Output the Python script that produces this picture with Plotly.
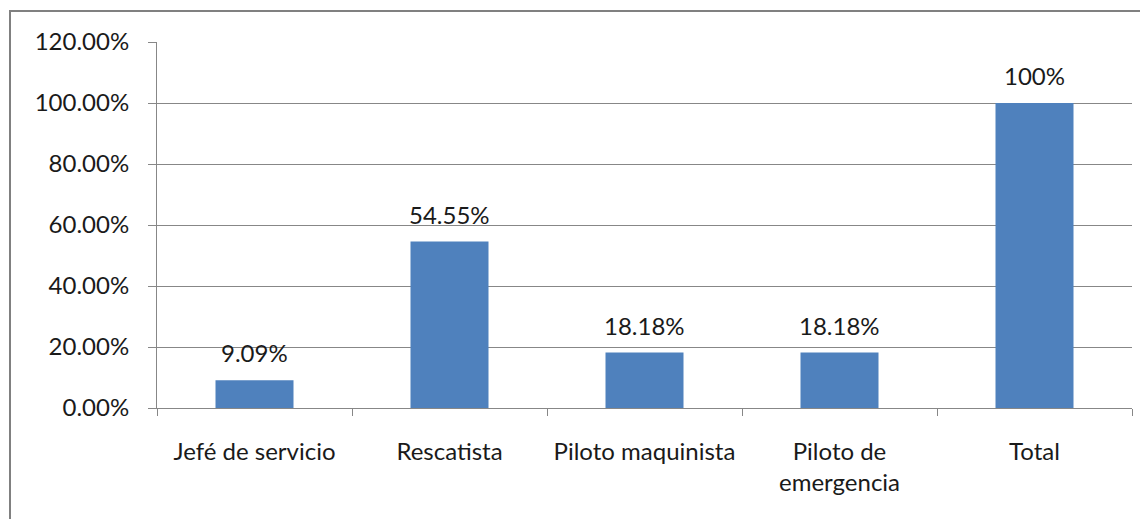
import plotly.graph_objects as go

# data
categories = ['Jefé de servicio', 'Rescatista', 'Piloto maquinista', 'Piloto de<br>emergencia', 'Total']
shares = [0.0909, 0.5455, 0.1818, 0.1818, 1.0]
share_labels = ['9.09%', '54.55%', '18.18%', '18.18%', '100%']
y_ticks = [0, 0.2, 0.4, 0.6, 0.8, 1.0, 1.2]

font_family = 'Lato, Open Sans, sans-serif'
grey = '#878787'
text_col = '#1a1a1a'

fig = go.Figure()
fig.add_trace(go.Bar(
    x=categories, y=shares,
    marker=dict(color='#4F81BD', line=dict(width=0)),
    width=0.4,
))

# value labels sit a bit higher above the bars than plotly's own outside text
for cat, val, lab in zip(categories, shares, share_labels):
    fig.add_annotation(x=cat, y=val, text=lab, showarrow=False,
                       yanchor='bottom', yshift=11,
                       font=dict(size=24, color=text_col, family=font_family))

# page body adds ~8px margin, so the figure is sized down a little
fig.update_layout(
    width=1140, height=511,
    margin=dict(l=149, r=16, t=34, b=111),
    paper_bgcolor='white', plot_bgcolor='white',
    showlegend=False,
    font=dict(family=font_family, size=24, color=text_col),
)
fig.update_yaxes(
    range=[0, 1.2], tickvals=y_ticks, tickformat='.2%',
    showgrid=True, gridcolor=grey, gridwidth=1,
    showline=True, linecolor=grey, linewidth=1,
    ticks='outside', ticklen=8, tickcolor=grey,
    ticklabelstandoff=14, zeroline=False,
)
fig.update_xaxes(
    showline=True, linecolor=grey, linewidth=1,
    ticks='outside', ticklen=7, tickcolor=grey, tickson='boundaries',
    ticklabelstandoff=22,
)

# outer chart border, partly cut off at right and bottom
fig.add_shape(type='rect', xref='paper', yref='paper',
              x0=-147 / 975, x1=1.05, y0=-0.4, y1=1 + 31 / 366,
              line=dict(color='#808080', width=2), fillcolor='rgba(0,0,0,0)', layer='below')

fig.write_html('out.html')
